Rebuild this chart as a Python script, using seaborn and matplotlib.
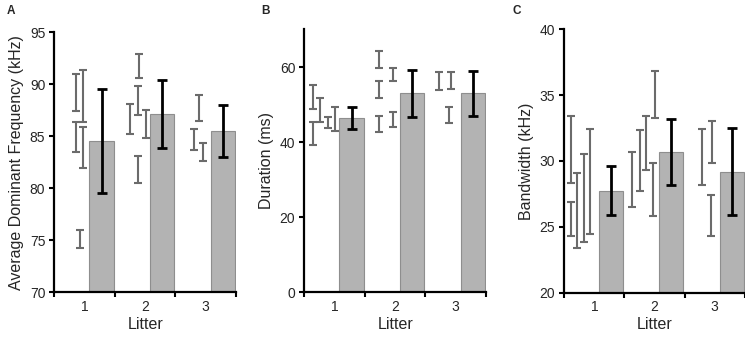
import numpy as np
import pandas as pd
import matplotlib
matplotlib.use("Agg")
import matplotlib.pyplot as plt
import seaborn as sns

# ---------------- data ----------------
litters = ["1", "2", "3"]

# Panel A: average dominant frequency (kHz)
freq_means = [84.6, 87.15, 85.5]
freq_err = [5.0, 3.25, 2.5]
freq_pup_means = [[89.2, 88.9, 84.95, 83.95, 75.15],
                  [91.75, 88.45, 86.65, 86.15, 81.8],
                  [87.75, 84.7, 83.5]]
freq_pup_err = [[1.8, 2.5, 1.45, 1.95, 0.85],
                [1.15, 1.4, 1.45, 1.35, 1.3],
                [1.25, 1.0, 0.9]]

# Panel B: duration (ms)
dur_means = [46.5, 53.0, 53.0]
dur_err = [2.9, 6.3, 6.0]
dur_pup_means = [[52.0, 42.25, 48.55, 45.2, 46.1],
                 [62.0, 54.1, 44.8, 58.05, 46.1],
                 [56.2, 56.35, 47.25]]
dur_pup_err = [[3.2, 3.05, 3.25, 1.4, 3.2],
               [2.2, 2.3, 2.2, 1.75, 2.0],
               [2.4, 2.25, 2.05]]

# Panel C: bandwidth (kHz)
bw_means = [27.75, 30.7, 29.2]
bw_err = [1.84, 2.5, 3.33]
bw_pup_means = [[25.6, 30.9, 26.25, 27.2, 28.45],
                [28.6, 30.05, 31.4, 35.05, 27.85],
                [30.3, 31.45, 25.85]]
bw_pup_err = [[1.3, 2.55, 2.85, 3.35, 4.0],
              [2.1, 2.3, 2.05, 1.8, 2.0],
              [2.1, 1.6, 1.55]]

# ---------------- layout (horizontal slot of each pup within a litter) ----------------
freq_pup_slot = [[0.36, 0.47, 0.36, 0.47, 0.43],
                 [0.405, 0.38, 0.25, 0.515, 0.38],
                 [0.39, 0.31, 0.46]]
dur_pup_slot = [[0.14, 0.14, 0.26, 0.39, 0.51],
                [0.24, 0.24, 0.24, 0.47, 0.47],
                [0.22, 0.42, 0.385]]
bw_pup_slot = [[0.11, 0.11, 0.21, 0.32, 0.42],
               [0.13, 0.255, 0.355, 0.505, 0.48],
               [0.28, 0.46, 0.43]]

BAR_SLOT = 0.78
BAR_WIDTH = 0.40
BAR_FILL = "#b3b3b3"
BAR_EDGE = "#8e8e8e"
PUP_COLOR = "#6b6b6b"

sns.set_style("white")
plt.rcParams["font.family"] = ["Liberation Sans", "DejaVu Sans"]

fig = plt.figure(figsize=(7.45, 3.37), dpi=100)

panels = [
    dict(rect=[0.0729, 0.1326, 0.2439, 0.7710], letter="A", lx=0.009,
         means=freq_means, err=freq_err, pm=freq_pup_means, pe=freq_pup_err,
         slot=freq_pup_slot, ylim=(70, 95), yticks=np.arange(70, 96, 5),
         ylabel="Average Dominant Frequency (kHz)"),
    dict(rect=[0.4085, 0.1326, 0.2439, 0.7800], letter="B", lx=0.351,
         means=dur_means, err=dur_err, pm=dur_pup_means, pe=dur_pup_err,
         slot=dur_pup_slot, ylim=(0, 70), yticks=[0, 20, 40, 60],
         ylabel="Duration (ms)"),
    dict(rect=[0.7574, 0.1315, 0.2424, 0.7816], letter="C", lx=0.688,
         means=bw_means, err=bw_err, pm=bw_pup_means, pe=bw_pup_err,
         slot=bw_pup_slot, ylim=(20, 40), yticks=np.arange(20, 41, 5),
         ylabel="Bandwidth (kHz)"),
]

for p in panels:
    ax = fig.add_axes(p["rect"])
    idx = np.arange(len(litters))
    df = pd.DataFrame({"pos": idx + BAR_SLOT, "value": p["means"], "litter": litters})
    sns.barplot(data=df, x="pos", y="value", native_scale=True, width=BAR_WIDTH,
                color=BAR_FILL, saturation=1, edgecolor=BAR_EDGE, linewidth=0.8,
                errorbar=None, ax=ax, zorder=1)
    # individual pups
    for i in idx:
        xs = i + np.array(p["slot"][i])
        ax.errorbar(xs, p["pm"][i], yerr=p["pe"][i], fmt="none", ecolor=PUP_COLOR,
                    elinewidth=1.5, capsize=2.9, capthick=1.5, zorder=3)
    # litter means
    ax.errorbar(idx + BAR_SLOT, p["means"], yerr=p["err"], fmt="none", ecolor="black",
                elinewidth=2.0, capsize=3.4, capthick=2.0, zorder=4)

    ax.set_xlim(0, 3)
    ax.set_ylim(*p["ylim"])
    ax.set_yticks(p["yticks"])
    ax.set_yticklabels([str(int(t)) for t in p["yticks"]], fontsize=10)
    ax.set_xticks([0, 1, 2, 3])
    ax.set_xticklabels([])
    ax.set_xticks([0.5, 1.5, 2.5], minor=True)
    ax.set_xticklabels(litters, minor=True, fontsize=10)
    ax.tick_params(axis="x", which="major", direction="out", length=3.5, width=1.5,
                   color="black", bottom=True)
    ax.tick_params(axis="x", which="minor", length=0, pad=5.5, bottom=True)
    ax.tick_params(axis="y", direction="out", length=3.5, width=1.5, color="black",
                   left=True, pad=3)
    for s in ["top", "right"]:
        ax.spines[s].set_visible(False)
    for s in ["left", "bottom"]:
        ax.spines[s].set_color("black")
        ax.spines[s].set_linewidth(1.6)
        ax.spines[s].set_zorder(5)
    ax.set_xlabel("Litter", fontsize=11.5, labelpad=2)
    ax.set_ylabel(p["ylabel"], fontsize=11.5, labelpad=4)
    fig.text(p["lx"], 0.985, p["letter"], fontsize=8.5, fontweight="bold",
             ha="left", va="top")

fig.savefig("out.png", dpi=100)
